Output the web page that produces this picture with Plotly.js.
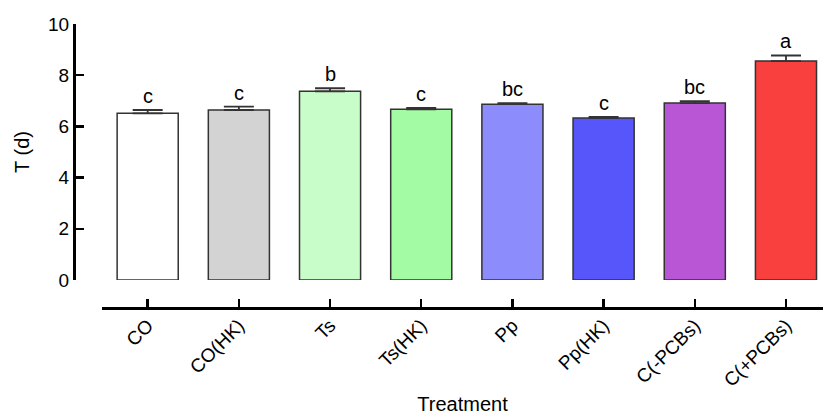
<!DOCTYPE html>
<html>
<head>
<meta charset="utf-8">
<script src="https://cdn.plot.ly/plotly-3.0.1.min.js"></script>
<style>html,body{margin:0;padding:0;background:#fff;}#chart{width:823px;height:415px;}</style>
</head>
<body>
<div id="chart"></div>
<script>
var categories = ["CO", "CO(HK)", "Ts", "Ts(HK)", "Pp", "Pp(HK)", "C(-PCBs)", "C(+PCBs)"];
var means = [6.51, 6.64, 7.37, 6.67, 6.87, 6.33, 6.91, 8.55];
var errors = [0.13, 0.13, 0.12, 0.05, 0.04, 0.04, 0.08, 0.22];
var letters = ["c", "c", "b", "c", "bc", "c", "bc", "a"];
var colors = ["#ffffff", "#d3d3d3", "#c8fcc8", "#a3fca3", "#8c8cfc", "#5656fa", "#b856d6", "#fa3f3f"];
var yTicks = [0, 2, 4, 6, 8, 10];

var font = "Liberation Sans, Arial, Helvetica, sans-serif";

var trace = {
  type: "bar",
  x: categories.map(function(c, i){ return i; }),
  y: means,
  width: 0.67,
  marker: {color: colors, line: {color: "#333333", width: 1.5}},
  error_y: {type: "data", symmetric: false, array: errors, arrayminus: errors.map(function(){return 0;}), color: "#333333", thickness: 1.8, width: 15},
  hoverinfo: "skip"
};

var annotations = letters.map(function(t, i){
  return {x: i, y: means[i] + errors[i], xref: "x", yref: "y", text: t, showarrow: false,
    yanchor: "bottom", yshift: 1, font: {family: font, size: 20, color: "#000"}};
});

var layout = {
  width: 823, height: 415,
  margin: {l: 74, r: 0, t: 24, b: 107},
  paper_bgcolor: "#fff", plot_bgcolor: "#fff",
  showlegend: false,
  xaxis: {
    domain: [0.0375, 1],
    range: [-0.5, 7.406],
    anchor: "free", position: 0,
    tickmode: "array", tickvals: categories.map(function(c, i){ return i; }), ticktext: categories,
    tickangle: -45,
    ticks: "inside", ticklen: 8, tickwidth: 2.5, tickcolor: "#000",
    ticklabelstandoff: -3,
    showline: true, linecolor: "#000", linewidth: 3,
    showgrid: false, zeroline: false,
    tickfont: {family: font, size: 19, color: "#000"},
    title: {text: "Treatment", font: {family: font, size: 20, color: "#000"}, standoff: 12}
  },
  yaxis: {
    domain: [0.0986, 1],
    range: [0, 10],
    anchor: "free", position: 0,
    tickmode: "array", tickvals: yTicks, ticktext: yTicks.map(String),
    ticks: "inside", ticklen: 8, tickwidth: 2.5, tickcolor: "#000",
    showline: true, linecolor: "#000", linewidth: 2.5,
    showgrid: false, zeroline: false,
    tickfont: {family: font, size: 19, color: "#000"},
    title: {text: "T (d)", font: {family: font, size: 20, color: "#000"}, standoff: 12}
  },
  annotations: annotations
};

Plotly.newPlot("chart", [trace], layout, {displayModeBar: false, staticPlot: true});
</script>
</body>
</html>
